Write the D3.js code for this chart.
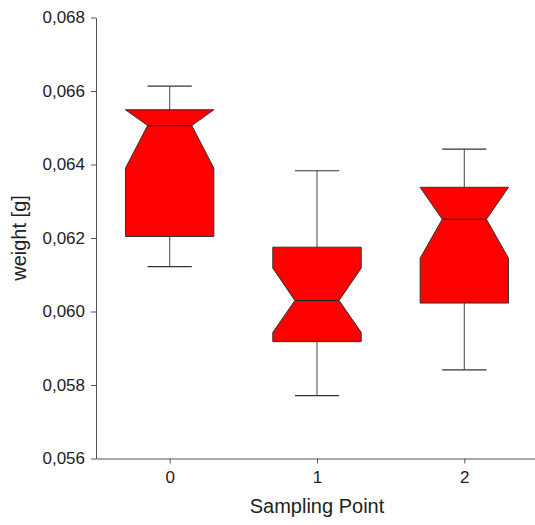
<!DOCTYPE html>
<html>
<head>
<meta charset="utf-8">
<script src="https://cdn.jsdelivr.net/npm/d3@7.9.0/dist/d3.min.js"></script>
<style>
  body { margin: 0; background: #fff; }
  svg { display: block; font-family: "Liberation Sans", Arial, sans-serif; }
</style>
</head>
<body>
<svg id="chart" width="535" height="525"></svg>
<script>
// values
const points = [0, 1, 2];
const whiskerLow = [0.06122, 0.05771, 0.05841];
const q1 = [0.06204, 0.05918, 0.06023];
const notchLow = [0.06390, 0.05943, 0.06145];
const median = [0.06506, 0.06030, 0.06251];
const notchHigh = [0.06622, 0.06118, 0.06357];
const q3 = [0.06549, 0.06175, 0.06338];
const whiskerHigh = [0.06613, 0.06383, 0.06442];
const yTicks = [0.056, 0.058, 0.060, 0.062, 0.064, 0.066, 0.068];

const svg = d3.select('#chart');

let x = d3.scaleLinear().domain([-0.5, 2.5]).range([96, 538]);
let y = d3.scaleLinear().domain([0.056, 0.068]).range([458.5, 17.5]);

let fmt = (d) => d3.format('.3f')(d).replace('.', ',');

// axes
let yAxis = svg.append('g')
    .attr('transform', 'translate(96,0)')
    .call(d3.axisLeft(y).tickValues(yTicks).tickFormat(fmt).tickSize(5).tickSizeOuter(0).tickPadding(6));

let xAxis = svg.append('g')
    .attr('transform', 'translate(0,458.5)')
    .call(d3.axisBottom(x).tickValues(points).tickFormat(d3.format('d')).tickSize(5).tickSizeOuter(0).tickPadding(7));

[yAxis, xAxis].forEach((g) => {
    g.select('.domain').attr('stroke', '#555');
    g.selectAll('.tick line').attr('stroke', '#555');
    g.selectAll('.tick text')
        .attr('fill', '#222')
        .style('font-size', '17px')
        .style('font-family', '"Liberation Sans", Arial, sans-serif');
});

// boxes
let hw = (x(1) - x(0)) * 0.3;

points.forEach((p, i) => {
    let cx = x(p);
    let g = svg.append('g');

    // whiskers
    [[q3[i], whiskerHigh[i]], [q1[i], whiskerLow[i]]].forEach(([from, to]) => {
        g.append('line')
            .attr('x1', cx).attr('x2', cx)
            .attr('y1', y(from)).attr('y2', y(to))
            .attr('stroke', '#666').attr('stroke-width', 1.2);
        g.append('line')
            .attr('x1', cx - hw / 2).attr('x2', cx + hw / 2)
            .attr('y1', y(to)).attr('y2', y(to))
            .attr('stroke', '#333').attr('stroke-width', 1.2);
    });

    let nHi = Math.min(notchHigh[i], q3[i]);
    let nLo = Math.max(notchLow[i], q1[i]);
    let pts = [
        [cx - hw, y(q3[i])],
        [cx + hw, y(q3[i])],
        [cx + hw, y(nHi)],
        [cx + hw / 2, y(median[i])],
        [cx + hw, y(nLo)],
        [cx + hw, y(q1[i])],
        [cx - hw, y(q1[i])],
        [cx - hw, y(nLo)],
        [cx - hw / 2, y(median[i])],
        [cx - hw, y(nHi)]
    ];

    g.append('path')
        .attr('d', d3.line()(pts) + 'Z')
        .attr('fill', '#ff0000')
        .attr('stroke', '#333')
        .attr('stroke-width', 1);

    g.append('line')
        .attr('x1', cx - hw / 2).attr('x2', cx + hw / 2)
        .attr('y1', y(median[i])).attr('y2', y(median[i]))
        .attr('stroke', '#222').attr('stroke-width', 1.2);
});

// titles
svg.append('text')
    .attr('x', 317)
    .attr('y', 513)
    .attr('text-anchor', 'middle')
    .attr('fill', '#222')
    .style('font-size', '20px')
    .text('Sampling Point');

svg.append('text')
    .attr('transform', 'translate(26,238) rotate(-90)')
    .attr('text-anchor', 'middle')
    .attr('fill', '#222')
    .style('font-size', '20px')
    .text('weight [g]');
</script>
</body>
</html>
